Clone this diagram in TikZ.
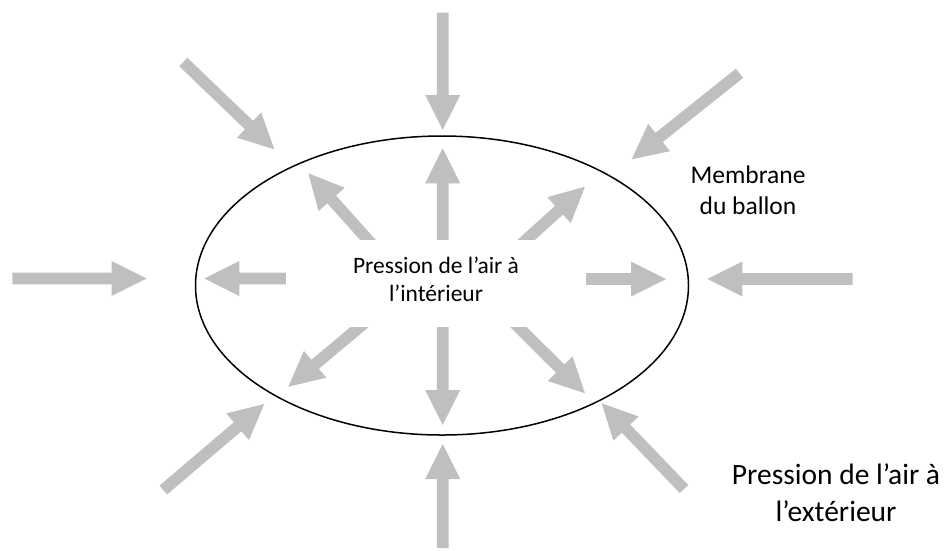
\documentclass[tikz,border=0pt]{standalone}
\usepackage{fontspec}
\setmainfont{Carlito}
\usetikzlibrary{calc,shapes.geometric}
\definecolor{arrowgray}{HTML}{BFBFBF}
\newcommand\grarr[2]{%
  \path ($(#2)!35pt!(#1)$) coordinate (h);
  \fill[arrowgray] ($(#1)!5.85pt!90:(#2)$) -- ($(h)!5.85pt!90:(#2)$) -- ($(h)!17.5pt!90:(#2)$) -- (#2)
    -- ($(h)!17.5pt!-90:(#2)$) -- ($(h)!5.85pt!-90:(#2)$) -- ($(#1)!5.85pt!-90:(#2)$) -- cycle;}
\tikzset{
  balloonshape/.style={ellipse, draw=black, line width=1.5pt, inner sep=0pt, minimum width=493pt, minimum height=299pt},
  coverbox/.style={fill=white, draw=none, inner sep=0pt, minimum width=300pt, minimum height=87pt},
  lbl/.style={align=center, inner sep=0pt, text=black}
}
\begin{document}
\begin{tikzpicture}[x=1pt,y=-1pt]
\useasboundingbox (0,0) rectangle (944,550);
\node[balloonshape] (balloon) at (442,285.5) {};
% outer arrows
\coordinate (t1) at (442.7,12.7);  \coordinate (p1) at (442.7,130);
\coordinate (t2) at (183.3,62);    \coordinate (p2) at (274.3,149.3);
\coordinate (t3) at (739.5,73.3);  \coordinate (p3) at (631.7,159.3);
\coordinate (t4) at (12.3,278.5);  \coordinate (p4) at (146.7,278.5);
\coordinate (t5) at (852.7,279);   \coordinate (p5) at (707.3,279);
\coordinate (t6) at (163.3,490);   \coordinate (p6) at (264.3,404);
\coordinate (t7) at (442.7,548);   \coordinate (p7) at (442.7,444);
\coordinate (t8) at (684,489);     \coordinate (p8) at (601.7,403.3);
% inner arrows
\coordinate (i1) at (442.7,260);   \coordinate (q1) at (442.7,148.3);
\coordinate (i2) at (380,253.4);   \coordinate (q2) at (308.3,173.3);
\coordinate (i3) at (515,250);     \coordinate (q3) at (585,186.7);
\coordinate (i4) at (300,278.5);   \coordinate (q4) at (204.3,278.5);
\coordinate (i5) at (570,279);     \coordinate (q5) at (666,279);
\coordinate (i6) at (372,316.7);   \coordinate (q6) at (288.3,386.7);
\coordinate (i7) at (442.7,310);   \coordinate (q7) at (442.7,425);
\coordinate (i8) at (508,316.7);   \coordinate (q8) at (585,393.3);
\foreach \n in {1,...,8}{\grarr{t\n}{p\n}\grarr{i\n}{q\n}}
\node[coverbox] (cover) at (436,283.5) {};
\node[lbl, font=\fontsize{23.5}{28.4}\selectfont] (inside) at (436,279) {Pression de l’air à\\l’intérieur};
\node[lbl, font=\fontsize{25.5}{31}\selectfont] (membrane) at (748,190) {Membrane\\du ballon};
\node[lbl, font=\fontsize{29.5}{36.7}\selectfont] (outside) at (836,493) {Pression de l’air à\\l’extérieur};
\end{tikzpicture}
\end{document}
